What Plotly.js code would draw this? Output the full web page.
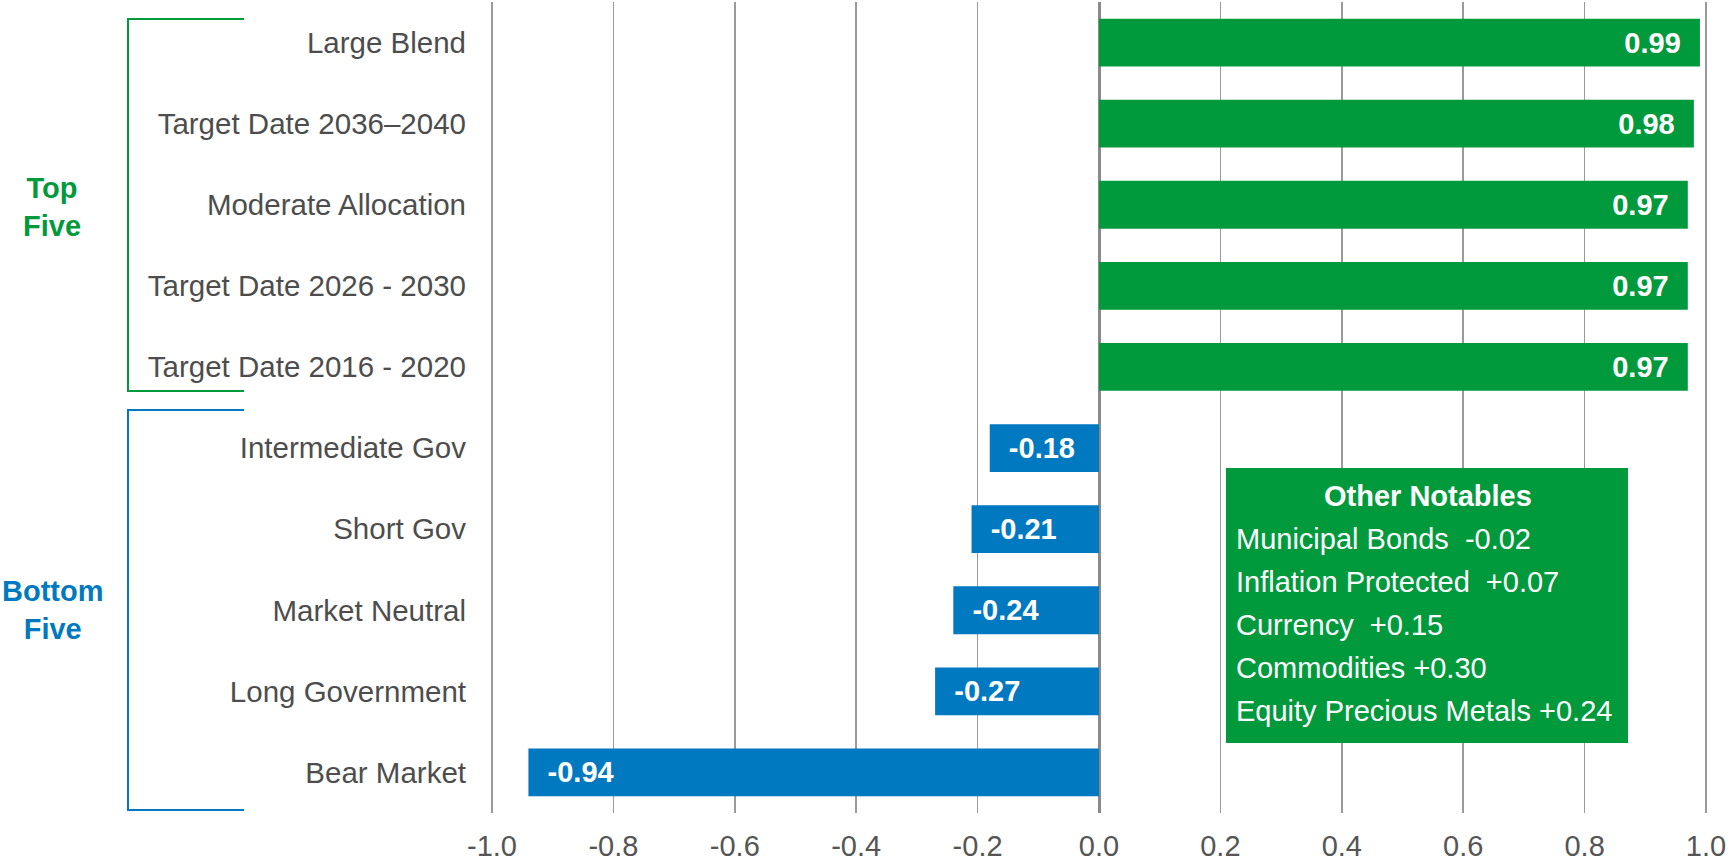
<!DOCTYPE html>
<html>
<head>
<meta charset="utf-8">
<script src="https://cdn.plot.ly/plotly-3.0.1.min.js"></script>
<style>html,body{margin:0;padding:0;background:#fff;}#chart{width:1730px;height:861px;}</style>
</head>
<body>
<div id="chart"></div>
<script>
// ---- data ----
const categories = ["Large Blend", "Target Date 2036\u20132040", "Moderate Allocation", "Target Date 2026 - 2030", "Target Date 2016 - 2020",
  "Intermediate Gov", "Short Gov", "Market Neutral", "Long Government", "Bear Market"];
const values = [0.99, 0.98, 0.97, 0.97, 0.97, -0.18, -0.21, -0.24, -0.27, -0.94];
const xTickVals = [-1.0, -0.8, -0.6, -0.4, -0.2, 0.0, 0.2, 0.4, 0.6, 0.8, 1.0];
const groupLabels = ["Top<br>Five", "Bottom<br>Five"];
const notablesTitle = "Other Notables";
const notableNames = ["Municipal Bonds", "Inflation Protected", "Currency", "Commodities", "Equity Precious Metals"];
const notableValues = ["\u00a0-0.02", "\u00a0+0.07", "\u00a0+0.15", "+0.30", "+0.24"];

// ---- style ----
const GREEN = "#009A3D";
const BLUE = "#0079C1";
const FONT = "Liberation Sans, Arial, sans-serif";
const W = 1730, H = 861;
const M = {l: 490, r: 22, t: 2, b: 48};
const plotH = H - M.t - M.b, plotW = W - M.l - M.r;
const py = y => (H - M.b - y) / plotH;   // pixel y -> paper
const px = x => (x - M.l) / plotW;       // pixel x -> paper

const colors = values.map(v => v >= 0 ? GREEN : BLUE);
const texts = values.map(v => v >= 0 ? v.toFixed(2) + "\u00a0\u00a0" : "\u00a0\u00a0" + v.toFixed(2));

const trace = {
  type: "bar", orientation: "h",
  y: categories, x: values,
  marker: {color: colors, line: {width: 0}},
  text: texts, textposition: "inside", insidetextanchor: "end",
  textangle: 0, constraintext: "none",
  insidetextfont: {family: FONT, size: 29, color: "#ffffff", weight: "bold"},
  hoverinfo: "skip", cliponaxis: false
};

const shapes = [
  // Other Notables box
  {type: "rect", xref: "paper", yref: "paper", x0: px(1226), x1: px(1628), y0: py(743), y1: py(468),
   fillcolor: GREEN, line: {width: 0}, layer: "above"},
  // Top five bracket
  {type: "path", xref: "paper", yref: "paper",
   path: `M ${px(244)} ${py(19)} L ${px(128)} ${py(19)} L ${px(128)} ${py(391)} L ${px(244)} ${py(391)}`,
   line: {color: GREEN, width: 2}},
  // Bottom five bracket
  {type: "path", xref: "paper", yref: "paper",
   path: `M ${px(244)} ${py(410)} L ${px(128)} ${py(410)} L ${px(128)} ${py(810)} L ${px(244)} ${py(810)}`,
   line: {color: BLUE, width: 2}}
];

const annotations = [
  {xref: "paper", yref: "paper", x: px(52), y: py(207), text: "<b>" + groupLabels[0] + "</b>", showarrow: false,
   xanchor: "center", yanchor: "middle", font: {family: FONT, size: 29, color: GREEN}},
  {xref: "paper", yref: "paper", x: px(52), y: py(610), text: "<b>" + groupLabels[1] + "</b>", showarrow: false,
   xanchor: "center", yanchor: "middle", font: {family: FONT, size: 29, color: BLUE}},
  {xref: "paper", yref: "paper", x: px(1428), y: py(496), text: "<b>" + notablesTitle + "</b>", showarrow: false,
   xanchor: "center", yanchor: "middle", font: {family: FONT, size: 29, color: "#ffffff"}}
];
notableNames.forEach((n, i) => {
  annotations.push({xref: "paper", yref: "paper", x: px(1234), y: py(539 + 43 * i),
    text: n + " " + notableValues[i], showarrow: false, xanchor: "left", yanchor: "middle",
    font: {family: FONT, size: 29, color: "#ffffff"}});
});

const layout = {
  width: W, height: H,
  margin: M,
  paper_bgcolor: "#ffffff", plot_bgcolor: "#ffffff",
  showlegend: false,
  bargap: 0.41,
  font: {family: FONT, size: 29, color: "#4d4d4d"},
  xaxis: {
    range: [-1.0033, 1.0033], tickvals: xTickVals, ticktext: xTickVals.map(v => v.toFixed(1)),
    showgrid: true, gridcolor: "#9a9a9a", gridwidth: 1.5,
    zeroline: true, zerolinecolor: "#8a8a8a", zerolinewidth: 3,
    showline: false, ticks: "", ticklabelstandoff: 13, automargin: false, fixedrange: true,
    tickfont: {family: FONT, size: 29, color: "#555555"}
  },
  yaxis: {
    type: "category", autorange: "reversed", showgrid: false, zeroline: false, showline: false,
    ticks: "", ticklabelstandoff: 23, automargin: false, fixedrange: true,
    tickfont: {family: FONT, size: 29.5, color: "#4d4d4d"}
  },
  shapes: shapes,
  annotations: annotations
};

Plotly.newPlot("chart", [trace], layout, {displayModeBar: false, staticPlot: true});
</script>
</body>
</html>
